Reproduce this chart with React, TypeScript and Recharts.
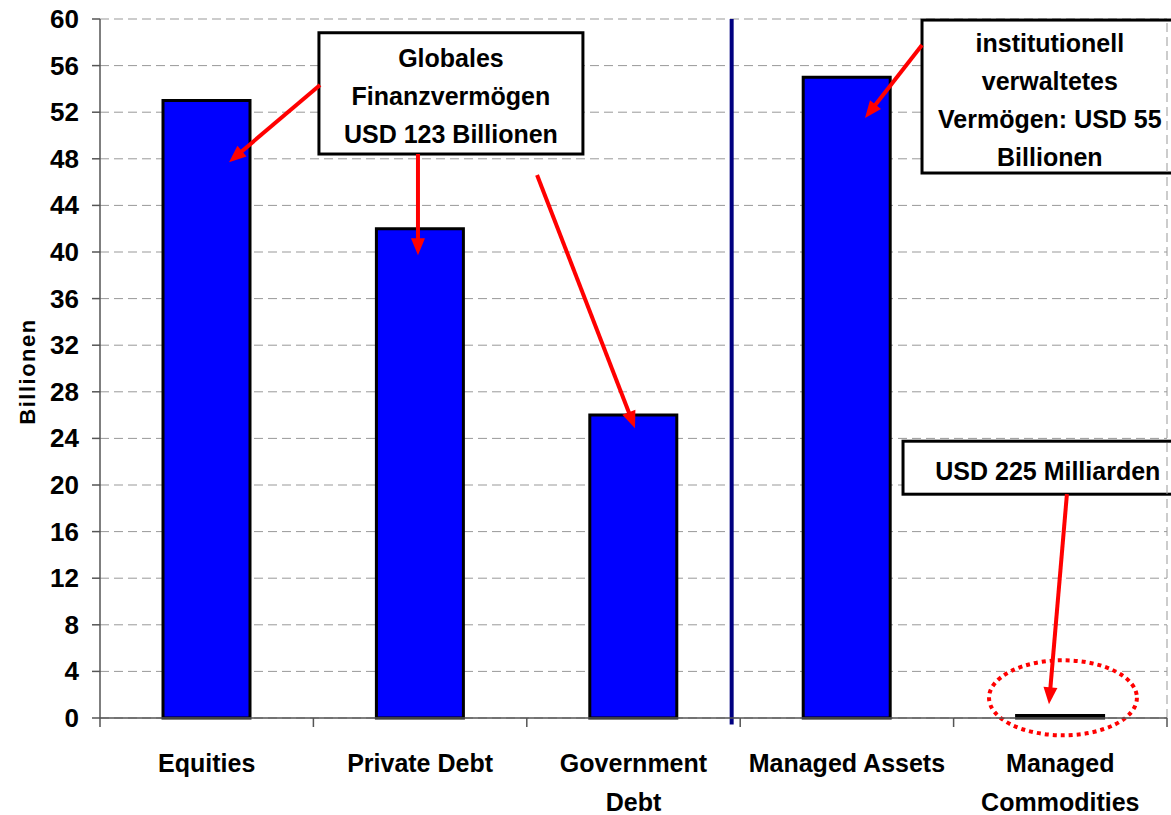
import React from 'react';
import {
    BarChart,
    Bar,
    XAxis,
    YAxis,
    CartesianGrid,
    ReferenceLine,
    ReferenceArea
} from 'recharts';

const FONT = "'Liberation Sans', Arial, sans-serif";

// categories and values (Billionen USD)
const categories = ['Equities', 'Private Debt', 'Government Debt', 'Managed Assets', 'Managed Commodities'];
const values = [53, 42, 26, 55, 0.225];
const categoryLines = [['Equities'], ['Private Debt'], ['Government', 'Debt'], ['Managed Assets'], ['Managed', 'Commodities']];
const yTicks = [0, 4, 8, 12, 16, 20, 24, 28, 32, 36, 40, 44, 48, 52, 56, 60];
// tick marks sit between categories, labels in the middle
const xTicks = [0, 0.5, 1, 1.5, 2, 2.5, 3, 3.5, 4, 4.5, 5];

// annotation boxes, in data coordinates
const boxes = [
    { x1: 1.026, x2: 2.263, y1: 48.41, y2: 58.82, lines: ['Globales', 'Finanzvermögen', 'USD 123 Billionen'] },
    { x1: 3.852, x2: 5.05, y1: 46.78, y2: 59.91, lines: ['institutionell', 'verwaltetes', 'Vermögen: USD 55', 'Billionen'] },
    { x1: 3.763, x2: 5.12, y1: 19.21, y2: 23.76, lines: ['USD 225 Milliarden'] }
];

// red arrows: from -> to
const arrows = [
    { fx: 1.031, fy: 54.33, tx: 0.6045, ty: 47.71 },
    { fx: 1.49, fy: 48.41, tx: 1.49, ty: 39.73 },
    { fx: 2.048, fy: 46.61, tx: 2.507, ty: 24.88 },
    { fx: 3.852, fy: 57.77, tx: 3.585, ty: 51.5 },
    { fx: 4.531, fy: 19.21, tx: 4.447, ty: 1.18 }
];

const divider = 2.96;
const circled = { x1: 4.166, x2: 4.859, y1: -1.486, y2: 4.955 };

const data = categories.map((name, i) => ({ pos: i + 0.5, name, value: values[i] }));

function CategoryTick(props: any) {
    const { x, y, payload } = props;
    const v = payload.value;
    if (Number.isInteger(v)) {
        return <line x1={x} x2={x} y1={y} y2={y + 9} stroke="#555" strokeWidth={1.5} />;
    }
    const lines = categoryLines[Math.floor(v)];
    return (
        <text textAnchor="middle" fontFamily={FONT} fontWeight="bold" fontSize={25} fill="#000">
            {lines.map((l, i) => (
                <tspan key={i} x={x} y={y + 54 + i * 39}>{l}</tspan>
            ))}
        </text>
    );
}

function ValueTick(props: any) {
    const { x, y, payload } = props;
    return (
        <text x={x} y={y + 9} textAnchor="end" fontFamily={FONT} fontWeight="bold" fontSize={26} fill="#000">
            {payload.value}
        </text>
    );
}

function Arrow(props: any) {
    const { x1, y1, x2, y2 } = props;
    const dx = x2 - x1;
    const dy = y2 - y1;
    const len = Math.sqrt(dx * dx + dy * dy);
    const ux = dx / len;
    const uy = dy / len;
    const head = 17;
    const half = 7;
    const bx = x2 - ux * head;
    const by = y2 - uy * head;
    return (
        <g>
            <line x1={x1} y1={y1} x2={bx + ux * 2} y2={by + uy * 2} stroke="#FF0000" strokeWidth={4} />
            <polygon
                points={`${x2},${y2} ${bx - uy * half},${by + ux * half} ${bx + uy * half},${by - ux * half}`}
                fill="#FF0000"
            />
        </g>
    );
}

function renderBox(p: any, lines: string[]) {
    const cx = p.x + p.width / 2;
    const cy = p.y + p.height / 2 + 3;
    return (
        <g>
            <rect x={p.x} y={p.y} width={p.width} height={p.height} fill="#fff" stroke="#000" strokeWidth={3} />
            <text textAnchor="middle" fontFamily={FONT} fontWeight="bold" fontSize={25} fill="#000">
                {lines.map((l, i) => (
                    <tspan key={i} x={cx} y={cy + (i - (lines.length - 1) / 2) * 38 + 9}>{l}</tspan>
                ))}
            </text>
        </g>
    );
}

function YLabel(props: any) {
    const { viewBox } = props;
    const cy = viewBox.y + viewBox.height / 2 + 3;
    return (
        <text
            x={27}
            y={cy}
            transform={`rotate(-90, 27, ${cy})`}
            textAnchor="middle"
            dominantBaseline="central"
            fontFamily={FONT}
            fontWeight="bold"
            fontSize={22}
            letterSpacing={1.5}
            fill="#000"
        >
            Billionen
        </text>
    );
}

export default function App() {
    return (
        <div style={{ position: 'absolute', left: 0, top: 0, width: 1171, height: 815, background: '#fff' }}>
            <BarChart
                width={1171}
                height={815}
                data={data}
                margin={{ top: 19, right: 4, bottom: 0, left: 40 }}
            >
                <CartesianGrid horizontal vertical={false} stroke="#999" strokeDasharray="9 5" />
                <XAxis
                    dataKey="pos"
                    type="number"
                    domain={[0, 5]}
                    ticks={xTicks}
                    interval={0}
                    tickLine={false}
                    tickSize={0}
                    tickMargin={0}
                    height={97}
                    axisLine={{ stroke: '#555', strokeWidth: 1.5 }}
                    tick={<CategoryTick />}
                />
                <YAxis
                    domain={[0, 60]}
                    ticks={yTicks}
                    interval={0}
                    width={60}
                    tickSize={8}
                    tickMargin={13}
                    axisLine={{ stroke: '#555', strokeWidth: 1.5 }}
                    tickLine={{ stroke: '#555', strokeWidth: 1.5 }}
                    tick={<ValueTick />}
                    label={<YLabel />}
                />
                <ReferenceLine x={5} stroke="#999" strokeDasharray="9 5" />
                <Bar
                    dataKey="value"
                    barSize={87}
                    fill="#0000FF"
                    stroke="#000"
                    strokeWidth={3}
                    isAnimationActive={false}
                />
                <ReferenceLine
                    segment={[{ x: divider, y: 60 }, { x: divider, y: -0.55 }]}
                    stroke="#000080"
                    strokeWidth={4}
                    ifOverflow="visible"
                />
                <ReferenceArea
                    x1={circled.x1}
                    x2={circled.x2}
                    y1={circled.y1}
                    y2={circled.y2}
                    ifOverflow="visible"
                    shape={(p: any) => (
                        <ellipse
                            cx={p.x + p.width / 2}
                            cy={p.y + p.height / 2}
                            rx={p.width / 2}
                            ry={p.height / 2}
                            fill="none"
                            stroke="#FF0000"
                            strokeWidth={4}
                            strokeDasharray="4 4"
                        />
                    )}
                />
                {boxes.map((b, i) => (
                    <ReferenceArea
                        key={'box' + i}
                        x1={b.x1}
                        x2={b.x2}
                        y1={b.y1}
                        y2={b.y2}
                        ifOverflow="visible"
                        shape={(p: any) => renderBox(p, b.lines)}
                    />
                ))}
                {arrows.map((a, i) => (
                    <ReferenceLine
                        key={'arrow' + i}
                        segment={[{ x: a.fx, y: a.fy }, { x: a.tx, y: a.ty }]}
                        ifOverflow="visible"
                        shape={(p: any) => <Arrow {...p} />}
                    />
                ))}
            </BarChart>
        </div>
    );
}
